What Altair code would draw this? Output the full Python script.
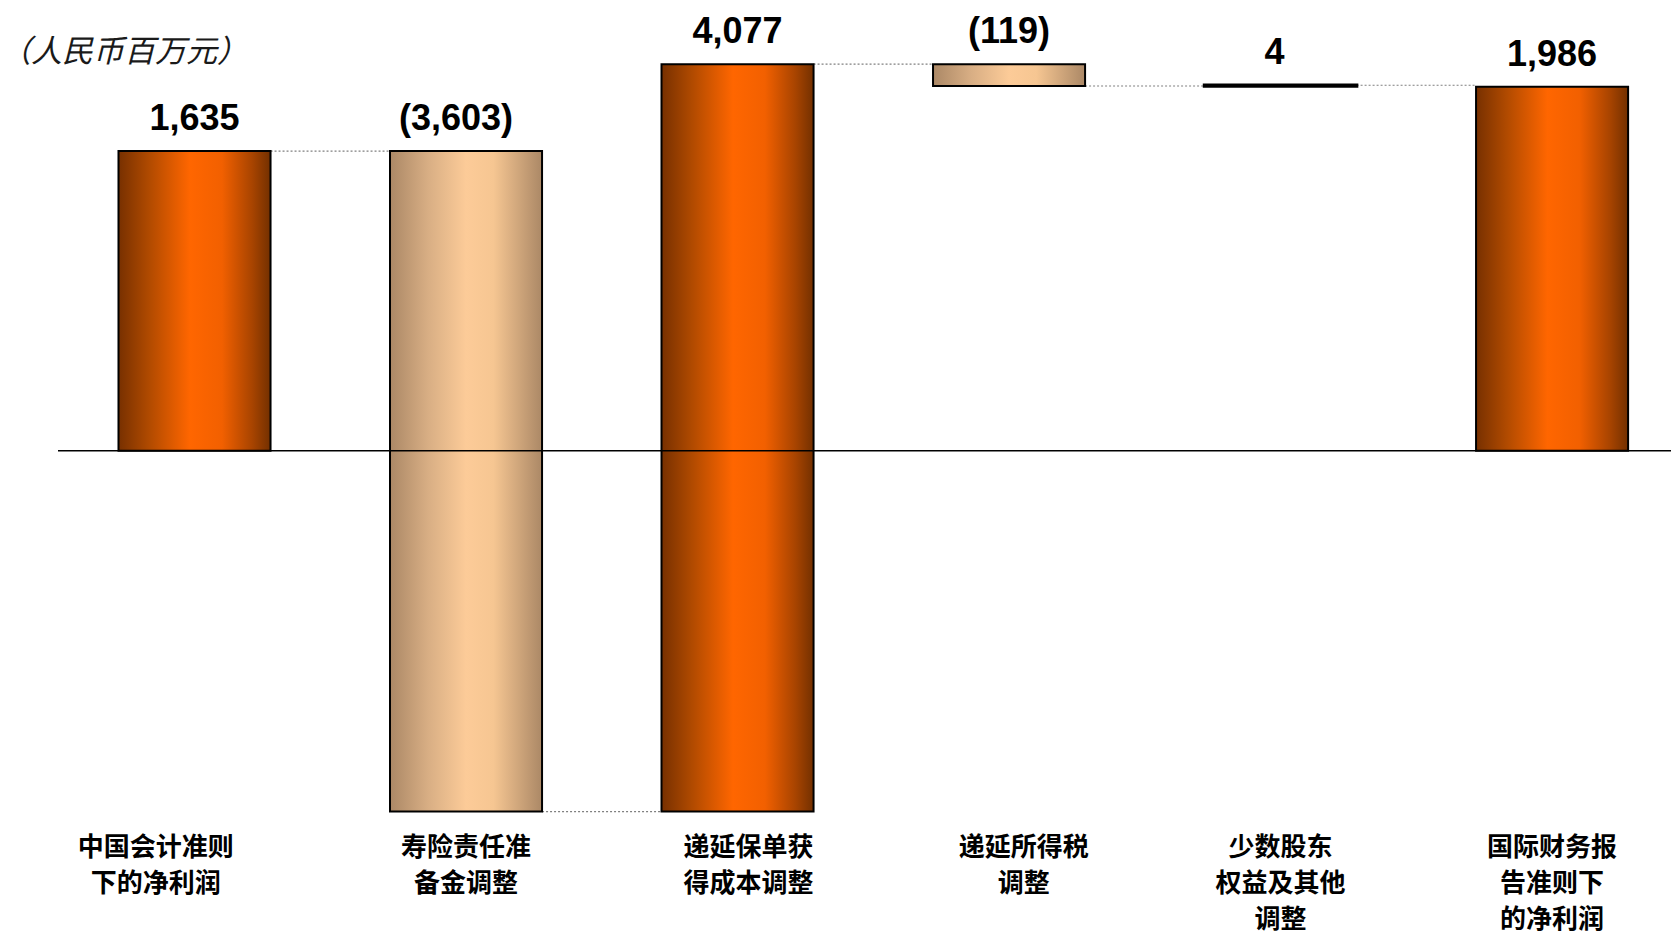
import altair as alt
import pandas as pd

# ---- data ----
categories = [
    "中国会计准则\n下的净利润",
    "寿险责任准\n备金调整",
    "递延保单获\n得成本调整",
    "递延所得税\n调整",
    "少数股东\n权益及其他\n调整",
    "国际财务报\n告准则下\n的净利润",
]
values = [1635, -3603, 4077, -119, 4, 1986]
kinds = ["total", "delta", "delta", "delta", "delta", "total"]
unit_title = "（人民币百万元）"

# ---- waterfall table ----
rows = []
running = 0
for i, (c, v, k) in enumerate(zip(categories, values, kinds)):
    if k == "total":
        start, end = 0, v
    else:
        start, end = running, running + v
    running = end
    label = f"({abs(v):,})" if v < 0 else f"{v:,}"
    rows.append(dict(i=i, cat=c, value=v, start=start, end=end,
                     top=max(start, end), label=label))
df = pd.DataFrame(rows)

W, H = 1671, 937
HALF = 0.28
xscale = alt.Scale(domain=[-0.7164, 5.438], nice=False, zero=False)
yscale = alt.Scale(domain=[-2652, 2459], nice=False, zero=False)

orange = alt.LinearGradient(
    gradient="linear", x1=0, x2=1, y1=0, y2=0,
    stops=[
        alt.GradientStop(color="#773000", offset=0),
        alt.GradientStop(color="#b04a00", offset=0.2),
        alt.GradientStop(color="#ff6600", offset=0.47),
        alt.GradientStop(color="#f26000", offset=0.68),
        alt.GradientStop(color="#a84400", offset=0.88),
        alt.GradientStop(color="#733000", offset=1),
    ],
)
tan = alt.LinearGradient(
    gradient="linear", x1=0, x2=1, y1=0, y2=0,
    stops=[
        alt.GradientStop(color="#ab8866", offset=0),
        alt.GradientStop(color="#d8ae84", offset=0.25),
        alt.GradientStop(color="#fccb98", offset=0.5),
        alt.GradientStop(color="#f6c692", offset=0.68),
        alt.GradientStop(color="#ab8866", offset=1),
    ],
)

base = alt.Chart(df).transform_calculate(
    xl=f"datum.i - {HALF}", xr=f"datum.i + {HALF}"
)

thin = "abs(datum.end - datum.start) < 20"

bars_up = base.transform_filter("datum.value > 0").mark_bar(
    fill=orange, stroke="black"
).encode(
    x=alt.X("xl:Q", scale=xscale, axis=None), x2="xr:Q",
    y=alt.Y("start:Q", scale=yscale, axis=None), y2="end:Q",
    strokeWidth=alt.condition(thin, alt.value(3.5), alt.value(2)),
)
bars_down = base.transform_filter("datum.value < 0").mark_bar(
    fill=tan, stroke="black", strokeWidth=2
).encode(
    x=alt.X("xl:Q", scale=xscale, axis=None), x2="xr:Q",
    y=alt.Y("start:Q", scale=yscale, axis=None), y2="end:Q",
)

connectors = base.transform_filter("datum.i < 5").transform_calculate(
    cx1=f"datum.i + {HALF}", cx2=f"datum.i + 1 - {HALF}"
).mark_rule(color="#808080", strokeWidth=1.2, strokeDash=[2, 2]).encode(
    x=alt.X("cx1:Q", scale=xscale, axis=None), x2="cx2:Q",
    y=alt.Y("end:Q", scale=yscale, axis=None),
)

zero_line = alt.Chart(pd.DataFrame({"z": [0]})).mark_rule(
    color="black", strokeWidth=1.5
).encode(
    y=alt.Y("z:Q", scale=yscale, axis=None),
    x=alt.value(58), x2=alt.value(W),
)

value_labels = base.transform_calculate(
    vx="datum.i + (datum.i == 1 ? -0.037 : datum.i == 4 ? -0.022 : 0)"
).mark_text(
    font="Liberation Sans", fontWeight="bold", fontSize=36,
    baseline="alphabetic", align="center", dy=-21, color="black"
).encode(
    x=alt.X("vx:Q", scale=xscale, axis=None),
    y=alt.Y("top:Q", scale=yscale, axis=None),
    text="label:N",
)

cat_labels = base.transform_calculate(
    lx="datum.i + (datum.i == 0 ? -0.143 : datum.i == 2 ? 0.04 : datum.i == 3 ? 0.054 : 0)"
).mark_text(
    font="Noto Sans CJK SC", fontWeight="bold", fontSize=26,
    baseline="top", align="center", lineBreak="\n", lineHeight=36,
    color="black"
).encode(
    x=alt.X("lx:Q", scale=xscale, axis=None),
    y=alt.value(835),
    text="cat:N",
)

title = alt.Chart(pd.DataFrame({"t": [unit_title]})).mark_text(
    font="Noto Sans CJK SC", fontStyle="italic", fontSize=31,
    align="left", baseline="middle", color="#1a1a1a"
).encode(
    x=alt.value(0), y=alt.value(53), text="t:N"
)

chart = alt.layer(
    connectors, bars_up, bars_down, zero_line, value_labels, cat_labels, title
).properties(
    width=W, height=H, padding=0,
    autosize=alt.AutoSizeParams(type="none"),
    background="white",
).configure_view(stroke=None)

chart.save("out.html", embed_options={"renderer": "svg", "actions": False})
